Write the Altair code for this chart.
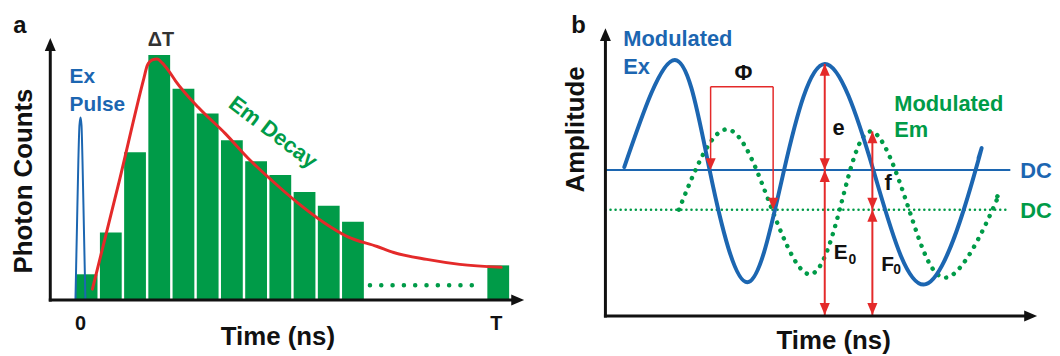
import altair as alt
import pandas as pd

# ---------------- panel a: time-domain histogram (bin index, photon counts) ----------------
BIN_START = [0, 1, 2, 3, 4, 5, 6, 7, 8, 9, 10, 11, 17]
BIN_COUNTS = [26, 68, 149, 247, 213, 188, 161, 140, 126, 109, 95, 79, 35]
FIT_TIME = [0.74, 1.8, 2.87, 3.0, 3.21, 3.41, 3.62, 3.89, 4.17, 5.12, 6.22, 7.17,
            8.13, 9.22, 10.31, 11.27, 12.5, 13.18, 14.55, 15.91, 17.62]
FIT_COUNTS = [11, 115, 224, 236, 242, 243, 239, 231, 221, 194, 168, 143,
              121, 98, 78, 64, 54, 48, 41, 36, 33]
PULSE_TIME = [0.04, 0.10, 0.16, 0.205, 0.25, 0.29, 0.33, 0.39, 0.45]
PULSE_COUNTS = [1, 71, 141, 176, 184, 176, 141, 71, 1]
GAP_TIME = [12.2, 16.8]
GAP_COUNTS = [15, 15]

# ---------------- panel b: frequency-domain modulation (time, amplitude) ----------------
EX_TIME = [19, 70, 105, 143, 180, 221, 270, 323, 373, 376]
EX_AMP = [150, 258, 147, 34, 147, 254, 147, 32, 147, 159]
EM_TIME = [74, 123, 168, 206, 236, 267, 306, 345, 390, 394]
EM_AMP = [107, 188, 107, 42, 107, 186, 107, 39, 107, 119]
DC_EX = 147
DC_EM = 107

FONT = "Liberation Sans"
BLUE = "#1c66b1"
GREEN = "#009b48"
RED = "#e42a2a"
BLACK = "#111111"
TRI = "M0,0L0.85,2L-0.85,2Z"  # arrowhead, tip at origin, pointing up

PX_PER_BIN = 24.4
A_W, A_H = 532, 340
B_W, B_H = 512, 340
xa = alt.Scale(domain=[-67 / PX_PER_BIN, 465 / PX_PER_BIN], nice=False, zero=False)
ya = alt.Scale(domain=[-47, 293], nice=False, zero=False)
xb = alt.Scale(domain=[-70, 442], nice=False, zero=False)
yb = alt.Scale(domain=[-31, 309], nice=False, zero=False)


def xy(xs, ys, x="x", y="y"):
    return dict(x=alt.X(f"{x}:Q", scale=xs, axis=None), y=alt.Y(f"{y}:Q", scale=ys, axis=None))


def label(text, x, y, xs, ys, size=22, color=BLACK, align="center", baseline="alphabetic", angle=0):
    df = pd.DataFrame({"x": [x], "y": [y]})
    return alt.Chart(df).mark_text(text=text, font=FONT, fontSize=size, fontWeight="bold",
                                   color=color, align=align, baseline=baseline,
                                   angle=angle).encode(**xy(xs, ys))


def seg(x1, y1, x2, y2, xs, ys, color, width, dash=None, cap="butt"):
    df = pd.DataFrame({"x": [x1], "y": [y1], "x2": [x2], "y2": [y2]})
    kw = dict(color=color, strokeWidth=width, strokeCap=cap)
    if dash:
        kw["strokeDash"] = dash
    return alt.Chart(df).mark_rule(**kw).encode(**xy(xs, ys), x2="x2:Q", y2="y2:Q")


def head(x, y, xs, ys, angle, color, size):
    df = pd.DataFrame({"x": [x], "y": [y]})
    return alt.Chart(df).mark_point(shape=TRI, filled=True, size=size, color=color, opacity=1,
                                    strokeWidth=0, angle=angle).encode(**xy(xs, ys))


def curve(xv, yv, xs, ys, color, width, interp, dash=None):
    df = pd.DataFrame({"x": xv, "y": yv, "i": range(len(xv))})
    kw = dict(color=color, strokeWidth=width, interpolate=interp, strokeCap="round", strokeJoin="round")
    if dash:
        kw["strokeDash"] = dash
    return alt.Chart(df).mark_line(**kw).encode(**xy(xs, ys), order="i:Q")


# ---------------- panel a ----------------
bars_df = pd.DataFrame({"start": BIN_START, "count": BIN_COUNTS})
bars_df["x"] = bars_df["start"] + 0.05
bars_df["x2"] = bars_df["start"] + 0.95
bars_df["zero"] = 0
bars = alt.Chart(bars_df).mark_rect(color=GREEN).encode(
    x=alt.X("x:Q", scale=xa, axis=None), x2="x2:Q",
    y=alt.Y("count:Q", scale=ya, axis=None), y2="zero:Q")

AX_T = -1.0
panel_a = alt.layer(
    bars,
    curve(GAP_TIME, GAP_COUNTS, xa, ya, GREEN, 4.5, "linear", dash=[0.1, 11.3]),
    curve(PULSE_TIME, PULSE_COUNTS, xa, ya, BLUE, 2, "monotone"),
    curve(FIT_TIME, FIT_COUNTS, xa, ya, RED, 3, "monotone"),
    seg(AX_T, 0, AX_T, 254, xa, ya, BLACK, 3, cap="square"),
    seg(AX_T, 0, 18.1, 0, xa, ya, BLACK, 3, cap="square"),
    head(AX_T, 264, xa, ya, 0, BLACK, 169),
    head(18.57, 0, xa, ya, 90, BLACK, 169),
    label("a", -2.254, 269, xa, ya, size=24),
    label("Photon Counts", -1.762, 120, xa, ya, size=26, angle=270),
    label("0", 0.246, -30, xa, ya, size=20),
    label("T", 17.42, -30, xa, ya, size=20),
    label("Time (ns)", 8.40, -45, xa, ya, size=26),
    label("ΔT", 3.57, 256, xa, ya, size=20, color="#333333"),
    label("Ex", -0.205, 219, xa, ya, size=21, color=BLUE, align="left"),
    label("Pulse", -0.205, 191, xa, ya, size=21, color=BLUE, align="left"),
    label("Em Decay", 8.2, 169, xa, ya, size=22, color=GREEN, baseline="middle", angle=37),
).properties(width=A_W, height=A_H)

# ---------------- panel b ----------------
panel_b = alt.layer(
    seg(0, DC_EX, 408, DC_EX, xb, yb, BLUE, 2),
    seg(0, DC_EM, 405, DC_EM, xb, yb, GREEN, 2.5, dash=[0.1, 5], cap="round"),
    curve(EM_TIME, EM_AMP, xb, yb, GREEN, 4.5, "natural", dash=[0.1, 8.5]),
    curve(EX_TIME, EX_AMP, xb, yb, BLUE, 4, "natural"),
    # phase bracket
    seg(106, 231, 106, 150, xb, yb, RED, 1.5),
    seg(169, 231, 169, 110, xb, yb, RED, 1.5),
    seg(106, 231, 169, 231, xb, yb, RED, 1.5),
    head(106, DC_EX, xb, yb, 180, RED, 144),
    head(169, DC_EM, xb, yb, 180, RED, 144),
    # e / E0 arrows
    seg(221, 254, 221, 1, xb, yb, RED, 2),
    head(221, 254, xb, yb, 0, RED, 144),
    head(221, DC_EX, xb, yb, 180, RED, 144),
    head(221, DC_EX, xb, yb, 0, RED, 144),
    head(221, 1, xb, yb, 180, RED, 144),
    # f / F0 arrows
    seg(269, 186, 269, 1, xb, yb, RED, 2),
    head(269, 186, xb, yb, 0, RED, 144),
    head(269, DC_EM, xb, yb, 180, RED, 144),
    head(269, DC_EM, xb, yb, 0, RED, 144),
    head(269, 1, xb, yb, 180, RED, 144),
    # axes
    seg(0, 0, 0, 280, xb, yb, BLACK, 3, cap="square"),
    seg(0, 0, 425, 0, xb, yb, BLACK, 3, cap="square"),
    head(0, 290, xb, yb, 0, BLACK, 169),
    head(435, 0, xb, yb, 90, BLACK, 169),
    # texts
    label("b", -27, 285, xb, yb, size=24),
    label("Amplitude", -22, 188, xb, yb, size=26, angle=270),
    label("Time (ns)", 230, -33, xb, yb, size=26),
    label("Modulated", 18, 272, xb, yb, size=22, color=BLUE, align="left"),
    label("Ex", 18, 244, xb, yb, size=22, color=BLUE, align="left"),
    label("Modulated", 291, 207, xb, yb, size=22, color=GREEN, align="left"),
    label("Em", 291, 180, xb, yb, size=22, color=GREEN, align="left"),
    label("Φ", 139, 238, xb, yb, size=22),
    label("e", 235, 182, xb, yb, size=22),
    label("E", 230, 57, xb, yb, size=21, align="left"),
    label("0", 245, 52, xb, yb, size=14, align="left"),
    label("f", 285, 127, xb, yb, size=22),
    label("F", 278, 45, xb, yb, size=21, align="left"),
    label("0", 290, 42, xb, yb, size=14, align="left"),
    label("DC", 418, 139, xb, yb, size=22, color=BLUE, align="left"),
    label("DC", 418, 99, xb, yb, size=22, color=GREEN, align="left"),
).properties(width=B_W, height=B_H)

chart = alt.hconcat(panel_a, panel_b, spacing=0).configure_view(
    stroke=None, fill="white").properties(padding=0, background="white")

chart.save("out.html", embed_options={"renderer": "svg", "actions": False})
